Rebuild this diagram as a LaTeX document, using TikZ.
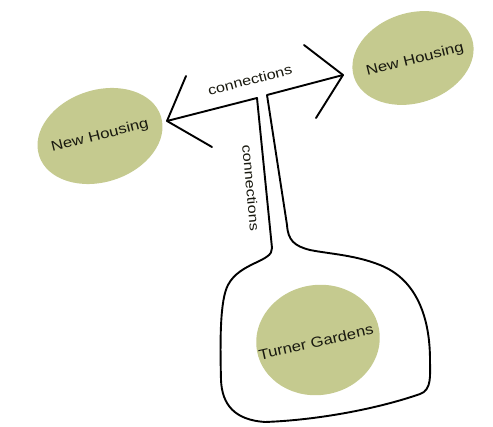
\documentclass[tikz,border=0pt]{standalone}
\usepackage{fontspec}
\setmainfont{Liberation Sans}
\newfontfamily\widesans[FakeStretch=1.2]{Liberation Sans}
\newfontfamily\widersans[FakeStretch=1.15]{Liberation Sans}
\usetikzlibrary{shapes.geometric}
\definecolor{blob}{RGB}{197,202,143}
\definecolor{ink}{RGB}{25,25,15}
\begin{document}
\begin{tikzpicture}[x=1pt,y=-1pt,
  blobshape/.style={ellipse,fill=blob,inner sep=0pt},
  blobtext/.style={font=\widesans\fontsize{14}{16}\selectfont,text=ink,inner sep=0pt},
  linktext/.style={font=\widesans\fontsize{13.5}{15}\selectfont,text=ink,inner sep=0pt},
  pen/.style={line width=1.9pt,line cap=round,line join=round,draw=black}]
\useasboundingbox (0,0) rectangle (493,427);
% blobs
\node[blobshape,minimum width=128pt,minimum height=92pt,rotate=18] (lh) at (100,136) {};
\node[blobshape,minimum width=124pt,minimum height=90pt,rotate=18] (rh) at (413,58) {};
\node[blobshape,minimum width=124pt,minimum height=110pt,rotate=10] (tg) at (318,340) {};
\node[blobtext,rotate=14] (lht) at (lh.center) {New Housing};
\node[blobtext,rotate=14] (rht) at (415,60) {New Housing};
\node[blobtext,rotate=12.8,font=\widersans\fontsize{14.5}{16}\selectfont] (tgt) at (316,342) {Turner Gardens};
% key points
\coordinate (ltip) at (167,121);
\coordinate (lb1) at (186,76);
\coordinate (lb2) at (212,147);
\coordinate (rtip) at (343,75);
\coordinate (rb1) at (304,45);
\coordinate (rb2) at (316,118);
\coordinate (j1) at (257,98);
\coordinate (j2) at (267,95);
% arrowheads
\draw[pen] (lb1) -- (ltip) -- (lb2);
\draw[pen] (rb1) -- (rtip) -- (rb2);
% T and bulb outline
\draw[pen] (ltip) -- (j1) -- (272,248)
  .. controls (273,262) and (240,262) .. (228,285)
  .. controls (220,300) and (220,340) .. (221,380)
  .. controls (222,405) and (235,420) .. (265,422)
  .. controls (320,420) and (380,408) .. (420,394)
  .. controls (432,390) and (430,375) .. (430,360)
  .. controls (430,320) and (418,280) .. (380,265)
  .. controls (355,255) and (330,254) .. (310,250)
  .. controls (294,246) and (288,240) .. (287,225)
  -- (j2) -- (rtip);
% labels
\node[linktext,rotate=14.5] (c1) at (250,80) {connections};
\node[linktext,rotate=-84.7] (c2) at (251,188) {connections};
\end{tikzpicture}
\end{document}
